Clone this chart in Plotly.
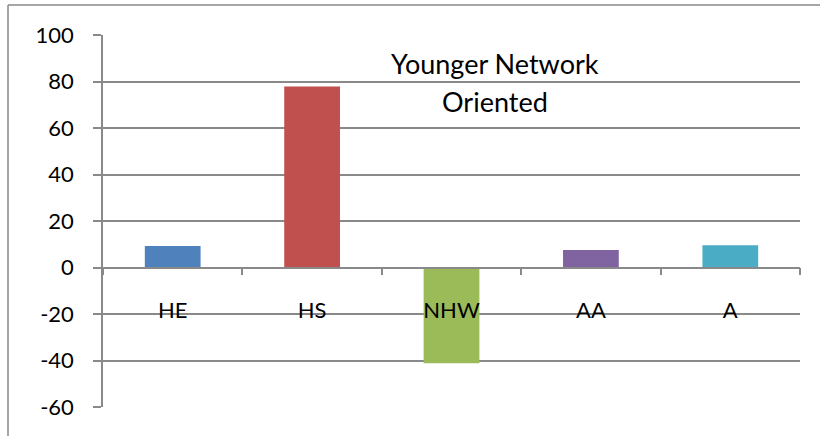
import plotly.graph_objects as go

categories = ["HE", "HS", "NHW", "AA", "A"]
values = [9.2, 77.8, -41.2, 7.5, 9.6]
colors = ["#4F81BD", "#C0504D", "#9BBB59", "#8064A2", "#4BACC6"]
y_ticks = [-60, -40, -20, 0, 20, 40, 60, 80, 100]
y_tick_labels = ["-60", "-40", "-20", "0", "20", "40", "60", "80", "100"]
title_lines = ["Younger Network", "Oriented"]

GRID = "#898989"
FONT = "Lato, 'Open Sans', sans-serif"

W, H = 820, 436
ML, MR, MT, MB = 103, 20, 35, 29
PW, PH = W - ML - MR, H - MT - MB

fig = go.Figure()
fig.add_trace(go.Bar(x=categories, y=values, marker=dict(color=colors, line=dict(width=0)),
                     showlegend=False, hoverinfo="x+y"))

fig.update_layout(
    width=W, height=H,
    margin=dict(l=ML, r=MR, t=MT, b=MB),
    paper_bgcolor="white", plot_bgcolor="white",
    bargap=0.6,
    font=dict(family=FONT, size=22, color="black"),
    xaxis=dict(
        type="category", anchor="free", position=(0 - y_ticks[0]) / (y_ticks[-1] - y_ticks[0]),
        showline=True, linecolor=GRID, linewidth=1.5,
        ticks="outside", tickson="boundaries", ticklen=7, tickcolor=GRID, tickwidth=1.5,
        showgrid=False, ticklabelstandoff=23,
        tickfont=dict(family=FONT, size=22, color="black"),
    ),
    yaxis=dict(
        range=[y_ticks[0], y_ticks[-1]], tickvals=y_ticks, ticktext=y_tick_labels,
        showline=True, linecolor=GRID, linewidth=1.5,
        ticks="outside", ticklen=8, tickcolor=GRID, tickwidth=1.5,
        showgrid=True, gridcolor=GRID, gridwidth=1.5, zeroline=False,
        ticklabelstandoff=15,
        tickfont=dict(family=FONT, size=22, color="black"),
    ),
)

# outer chart border: only top and left edges are visible in the frame
bx0 = (8 - ML) / PW
bx1 = (W - ML) / PW
by1 = 1 + (MT - 5) / PH
by0 = -MB / PH
fig.add_shape(type="line", xref="paper", yref="paper", x0=bx0, x1=bx1, y0=by1, y1=by1,
              line=dict(color=GRID, width=1.5), layer="below")
fig.add_shape(type="line", xref="paper", yref="paper", x0=bx0, x1=bx0, y0=by0, y1=by1,
              line=dict(color=GRID, width=1.5), layer="below")

for i, line in enumerate(title_lines):
    fig.add_annotation(text=line, xref="paper", yref="paper",
                       x=(495 - ML) / PW, y=1 - (63 + 38 * i - MT) / PH,
                       showarrow=False, xanchor="center", yanchor="middle",
                       font=dict(family=FONT, size=27, color="black"))

fig.write_html("out.html", config={"displayModeBar": False},
               post_script="document.body.style.margin='0';document.body.style.overflow='hidden';")
